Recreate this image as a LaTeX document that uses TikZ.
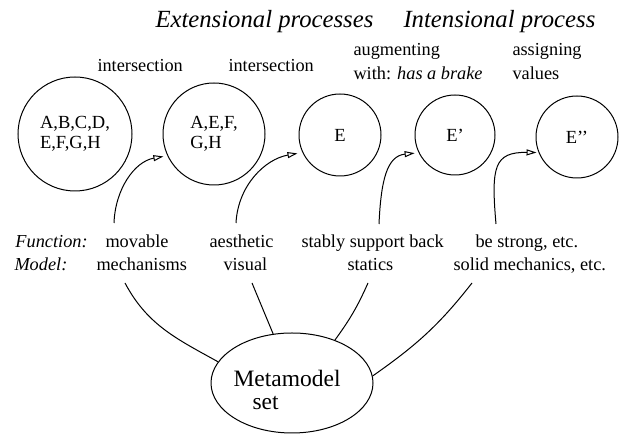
\documentclass[tikz,border=0pt]{standalone}
\usepackage{fontspec}
\setmainfont{Liberation Serif}
\usetikzlibrary{arrows.meta,shapes.geometric}
\begin{document}
\begin{tikzpicture}[x=1pt,y=1pt,line width=1pt,
  txt/.style={anchor=base west,inner sep=0pt,font=\fontsize{18.3}{20}\selectfont},
  ttl/.style={anchor=base west,inner sep=0pt,font=\fontsize{24.7}{28}\selectfont\itshape},
  bigtxt/.style={anchor=base west,inner sep=0pt,font=\fontsize{23.5}{26}\selectfont},
  setc/.style={draw,circle,inner sep=0pt,align=left,font=\fontsize{18.5}{19.5}\selectfont},
  arr/.style={-{Triangle[open,length=10pt,width=6pt]}}]
\useasboundingbox (0,0) rectangle (619,435);
% titles
\node[ttl] (t1) at (155,407) {Extensional processes};
\node[ttl] (t2) at (403,407) {Intensional process};
% operation labels
\node[txt] (i1) at (97,363) {intersection};
\node[txt] (i2) at (228,363) {intersection};
\node[txt] (aug) at (353,379) {augmenting};
\node[txt] (with) at (353,355) {with: \textit{has a brake}};
\node[txt] (asg) at (512,379) {assigning};
\node[txt] (val) at (512,355) {values};
% sets
\node[setc,minimum size=114pt] (c1) at (75,301) {A,B,C,D,\\E,F,G,H};
\node[setc,minimum size=102pt] (c2) at (214,301) {A,E,F,\\G,H};
\node[setc,minimum size=82pt] (c3) at (340,300) {E};
\node[setc,minimum size=80pt] (c4) at (455,300) {E{'}};
\node[setc,minimum size=82pt] (c5) at (577,298) {E{'}{'}};
% function / model rows
\node[txt] (fun) at (15,187) {\textit{Function:}};
\node[txt] (mod) at (14,164) {\textit{Model:}};
\node[txt] (f1) at (105,187) {movable};
\node[txt] (m1t) at (96,164) {mechanisms};
\node[txt] (f2) at (209,187) {aesthetic};
\node[txt] (m2t) at (223,164) {visual};
\node[txt] (f3) at (301,187) {stably support back};
\node[txt] (m3t) at (347,164) {statics};
\node[txt] (f4) at (475,187) {be strong, etc.};
\node[txt] (m4t) at (453,164) {solid mechanics, etc.};
% metamodel
\node[draw,ellipse,minimum width=162pt,minimum height=100pt,inner sep=0pt] (meta) at (292,52) {};
\node[bigtxt] (mt1) at (233,48) {Metamodel};
\node[bigtxt] (mt2) at (252,25) {set};
% connector ends
\coordinate (a1s) at (114,212);
\coordinate (a2s) at (236,212);
\coordinate (a3s) at (379,211);
\coordinate (a4s) at (496,211);
\coordinate (l1s) at (125,152);
\coordinate (l2s) at (252,152);
\coordinate (l3s) at (368,152);
\coordinate (l4s) at (472,152);
% arrows
\draw[arr,shorten >=4pt] (a1s) to[out=88,in=190] (c2.205);
\draw[arr,shorten >=5pt] (a2s) to[out=87,in=190] (c3.205);
\draw[arr,shorten >=4pt] (a3s) .. controls (381,255) and (387,279) .. (c4.206);
\draw[arr,shorten >=2pt] (a4s) .. controls (491,268) and (494,283) .. (c5.202);
% links to metamodel
\draw (l1s) to[out=-62,in=151] (meta.164);
\draw (l2s) -- (meta.111);
\draw (l3s) to[out=-114,in=54] (meta.45);
\draw (l4s) to[out=-128,in=35] (meta.5);
\end{tikzpicture}
\end{document}
